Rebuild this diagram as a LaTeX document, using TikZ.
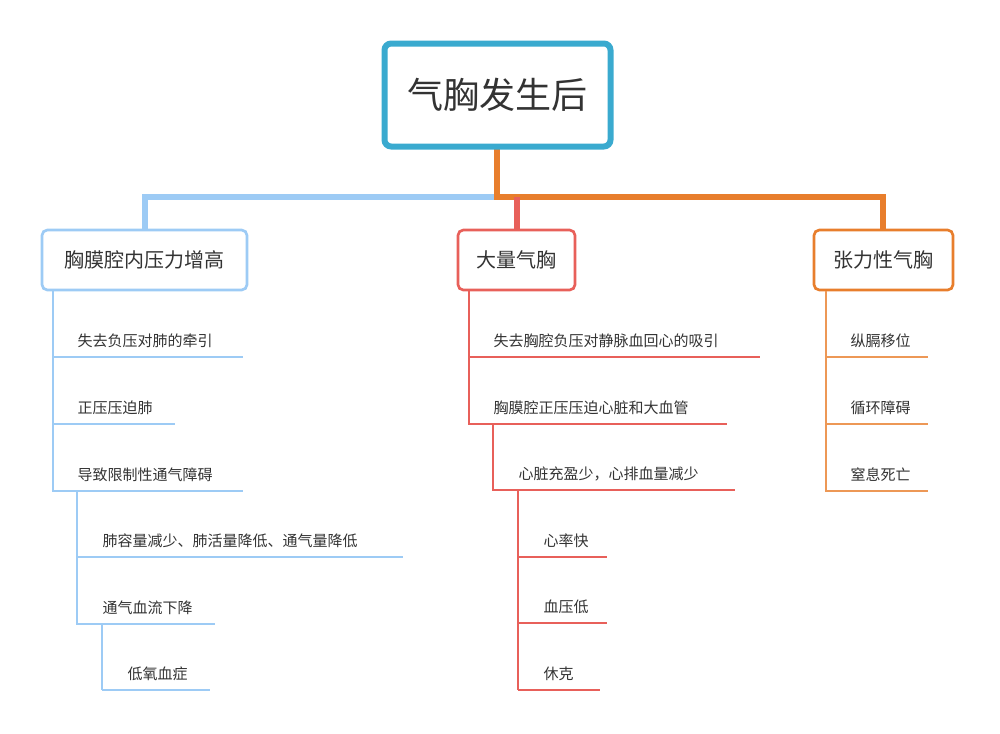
\documentclass[tikz,border=0pt]{standalone}
\usepackage{fontspec}
\newfontfamily\cjk{Noto Sans CJK SC}
\definecolor{teal}{HTML}{3AAACF}
\definecolor{lblue}{HTML}{9DCBF5}
\definecolor{lred}{HTML}{E8605A}
\definecolor{lorange}{HTML}{E87E2C}
\definecolor{txt}{HTML}{333333}
\begin{document}
\begin{tikzpicture}[x=0.75pt,y=-0.75pt,
  box/.style={draw,rounded corners=4pt,line width=2pt,fill=white,text=txt,font=\cjk\fontsize{15}{18}\selectfont,inner sep=0pt},
  item/.style={anchor=west,text=txt,font=\cjk\fontsize{11.25}{13}\selectfont,inner sep=0pt},
  thin/.style={line width=0.8pt}]
\useasboundingbox (0,0) rectangle (1000,733);
% trunk
\draw[lblue,line width=4pt] (145,230) -- (145,197) -- (497,197);
\draw[lorange,line width=4pt] (497,148) -- (497,197) -- (883,197) -- (883,230);
\draw[lred,line width=4pt] (517,197) -- (517,230);
\node[box,draw=teal,line width=4.5pt,minimum width=226pt*0.75/0.75*0.75,minimum height=103*0.75pt,rounded corners=5pt,font=\cjk\fontsize{27}{30}\selectfont] (root) at (497.5,95) {气胸发生后};
\node[box,draw=lblue,minimum width=205*0.75pt,minimum height=60*0.75pt] (L) at (144.5,260) {胸膜腔内压力增高};
\node[box,draw=lred,minimum width=117*0.75pt,minimum height=60*0.75pt] (M) at (516.5,260) {大量气胸};
\node[box,draw=lorange,minimum width=139*0.75pt,minimum height=60*0.75pt] (R) at (883.5,260) {张力性气胸};
% left
\begin{scope}[draw=lblue,thin]
\draw (53,291) -- (53,492);
\node[item] (l1) at (77,341) {失去负压对肺的牵引}; \draw (53,357) -- (243,357);
\node[item] (l2) at (77,408) {正压压迫肺}; \draw (53,424) -- (175,424);
\node[item] (l3) at (77,475) {导致限制性通气障碍}; \draw (53,491) -- (243,491);
\draw (77,491) -- (77,625);
\node[item] (l4) at (102,541) {肺容量减少、肺活量降低、通气量降低}; \draw (77,557) -- (403,557);
\node[item] (l5) at (102,608) {通气血流下降}; \draw (77,624) -- (215,624);
\draw (102,624) -- (102,690);
\node[item] (l6) at (127,674) {低氧血症}; \draw (102,690) -- (210,690);
\end{scope}
% middle
\begin{scope}[draw=lred,thin]
\draw (469,291) -- (469,425);
\node[item] (m1) at (493,341) {失去胸腔负压对静脉血回心的吸引}; \draw (469,357) -- (760,357);
\node[item] (m2) at (493,408) {胸膜腔正压压迫心脏和大血管}; \draw (469,424) -- (727,424);
\draw (493,424) -- (493,491);
\node[item] (m3) at (518,474) {心脏充盈少，心排血量减少}; \draw (493,490) -- (735,490);
\draw (518,490) -- (518,690);
\node[item] (m4) at (543,541) {心率快}; \draw (518,557) -- (607,557);
\node[item] (m5) at (543,607) {血压低}; \draw (518,623) -- (607,623);
\node[item] (m6) at (543,674) {休克}; \draw (518,690) -- (600,690);
\end{scope}
% right
\begin{scope}[draw=lorange!80,thin]
\draw (826,291) -- (826,492);
\node[item] (r1) at (850,341) {纵膈移位}; \draw (826,357) -- (928,357);
\node[item] (r2) at (850,408) {循环障碍}; \draw (826,424) -- (928,424);
\node[item] (r3) at (850,475) {窒息死亡}; \draw (826,491) -- (928,491);
\end{scope}
\end{tikzpicture}
\end{document}
